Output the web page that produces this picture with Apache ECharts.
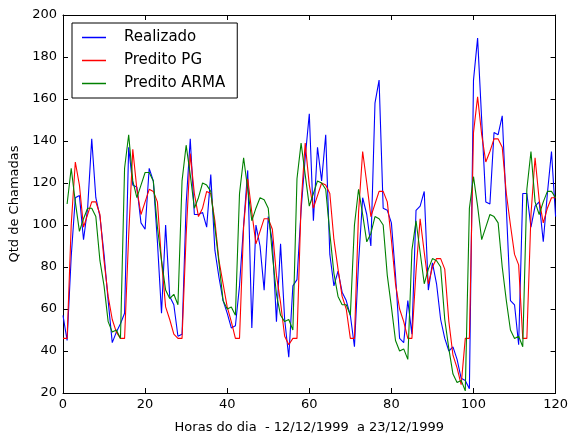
<!DOCTYPE html>
<html>
<head>
<meta charset="utf-8">
<script src="https://cdn.jsdelivr.net/npm/echarts@6/dist/echarts.min.js"></script>
<style>
  html, body { margin: 0; padding: 0; background: #fff; }
  #chart { width: 571px; height: 439px; }
</style>
</head>
<body>
<div id="chart"></div>
<script>
// hours 0..120, one value per hour
let realizado = [
    57, 45, 85, 113, 114, 93, 108, 141, 113, 104,
    86, 64, 44, 49, 53, 58, 137, 119, 118, 101,
    98, 127, 121, 92, 58, 100, 66, 62, 47, 48,
    110, 141, 105, 105, 106, 99, 124, 88, 75, 64,
    58, 51, 52, 71, 100, 126, 51, 100, 90, 69,
    104, 92, 54, 91, 55, 37, 71, 74, 107, 132,
    153, 102, 137, 121, 143, 86, 71, 78, 68, 64,
    57, 42, 82, 113, 105, 90, 158, 169, 108, 107,
    101, 76, 46, 44, 64, 48, 107, 109, 116, 69,
    82, 72, 55, 46, 40, 42, 36, 27, 26, 22,
    169, 189, 150, 111, 110, 144, 143, 152, 108, 64,
    62, 43, 115, 115, 99, 109, 111, 92, 115, 135,
    104
];

let preditoPG = [
    46, 46, 100, 130, 119, 99, 105, 111, 111, 105,
    83, 66, 55, 49, 46, 46, 95, 136, 117, 105,
    111, 117, 116, 111, 83, 61, 55, 48, 46, 46,
    95, 134, 115, 104, 108, 116, 115, 102, 83, 72,
    61, 54, 46, 46, 99, 122, 106, 91, 97, 103,
    103, 98, 76, 63, 47, 43, 46, 46, 110, 139,
    119, 108, 114, 120, 119, 115, 93, 79, 66, 60,
    46, 46, 106, 135, 120, 104, 110, 116, 116, 111,
    93, 72, 60, 54, 46, 46, 78, 103, 87, 72,
    80, 84, 84, 79, 54, 38, 32, 24, 46, 46,
    144, 161, 143, 130, 135, 141, 141, 137, 115, 100,
    86, 81, 46, 46, 105, 132, 112, 101, 108, 113,
    113
];

let preditoARMA = [
    '-', 110, 127, 111, 97, 103, 108, 108, 104, 83,
    71, 54, 49, 50, 46, 127, 143, 121, 113, 119,
    125, 125, 121, 99, 83, 69, 65, 67, 62, 121,
    138, 124, 108, 113, 120, 119, 116, 99, 82, 64,
    60, 61, 57, 115, 132, 117, 102, 108, 113, 112,
    108, 86, 67, 57, 54, 55, 50, 122, 139, 124,
    109, 115, 121, 120, 117, 96, 77, 66, 62, 62,
    57, 100, 117, 105, 92, 96, 104, 103, 100, 76,
    61, 45, 40, 41, 36, 88, 102, 87, 72, 79,
    84, 83, 80, 55, 41, 29, 25, 26, 21, 108,
    123, 109, 93, 99, 105, 104, 101, 80, 64, 50,
    46, 47, 42, 117, 135, 111, 105, 111, 116, 116,
    113
];

let seriesNames = ['Realizado', 'Predito PG', 'Predito ARMA'];
let seriesColors = ['#0000ff', '#ff0000', '#008000'];

const fontFamily = 'DejaVu Sans';

function toPoints(values) {
    return values.map((v, i) => [i, v]);
}

function getOption() {
    let option = {
        animation: false,
        backgroundColor: '#ffffff',
        textStyle: {
            fontFamily: fontFamily,
        },
        grid: {
            left: 63,
            right: 11,
            top: 15,
            bottom: 41,
        },
        legend: {
            orient: 'vertical',
            left: 72,
            top: 23,
            padding: [7, 12, 7, 10],
            itemGap: 8,
            itemWidth: 24,
            itemHeight: 1.5,
            icon: 'rect',
            borderColor: '#000000',
            borderWidth: 1,
            textStyle: {
                fontFamily: fontFamily,
                fontSize: 15,
                color: '#000000',
                padding: [0, 0, 0, 13],
            },
            data: seriesNames,
        },
        xAxis: [{
            type: 'value',
            min: 0,
            max: 120,
            interval: 20,
            name: 'Horas do dia  - 12/12/1999  a 23/12/1999',
            nameLocation: 'middle',
            nameGap: 28,
            nameTextStyle: {
                fontFamily: fontFamily,
                fontSize: 13,
                color: '#000000',
            },
            axisLine: { show: true, onZero: false, lineStyle: { color: '#000000', width: 1 } },
            axisTick: { show: true, inside: true, length: 5, lineStyle: { color: '#000000' } },
            axisLabel: { fontFamily: fontFamily, fontSize: 13, color: '#000000', margin: 5 },
            splitLine: { show: false },
        }, {
            type: 'value',
            position: 'top',
            min: 0,
            max: 120,
            interval: 20,
            axisLine: { show: true, onZero: false, lineStyle: { color: '#000000', width: 1 } },
            axisTick: { show: true, inside: true, length: 5, lineStyle: { color: '#000000' } },
            axisLabel: { show: false },
            splitLine: { show: false },
        }],
        yAxis: [{
            type: 'value',
            min: 20,
            max: 200,
            interval: 20,
            name: 'Qtd de Chamadas',
            nameLocation: 'middle',
            nameGap: 37,
            nameTextStyle: {
                fontFamily: fontFamily,
                fontSize: 13,
                color: '#000000',
            },
            axisLine: { show: true, onZero: false, lineStyle: { color: '#000000', width: 1 } },
            axisTick: { show: true, inside: true, length: 5, lineStyle: { color: '#000000' } },
            axisLabel: { fontFamily: fontFamily, fontSize: 13, color: '#000000', margin: 6 },
            splitLine: { show: false },
        }, {
            type: 'value',
            position: 'right',
            min: 20,
            max: 200,
            interval: 20,
            axisLine: { show: true, onZero: false, lineStyle: { color: '#000000', width: 1 } },
            axisTick: { show: true, inside: true, length: 5, lineStyle: { color: '#000000' } },
            axisLabel: { show: false },
            splitLine: { show: false },
        }],
        series: [],
    };

    let allValues = [realizado, preditoPG, preditoARMA];
    for (let k = 0; k < seriesNames.length; ++k) {
        option.series.push({
            name: seriesNames[k],
            type: 'line',
            xAxisIndex: 0,
            yAxisIndex: 0,
            showSymbol: false,
            symbol: 'none',
            clip: true,
            color: seriesColors[k],
            lineStyle: { color: seriesColors[k], width: 1.1 },
            data: toPoints(allValues[k]),
        });
    }
    return option;
}

let myChart = echarts.init(document.getElementById('chart'), null, { renderer: 'canvas' });
myChart.setOption(getOption());
</script>
</body>
</html>
